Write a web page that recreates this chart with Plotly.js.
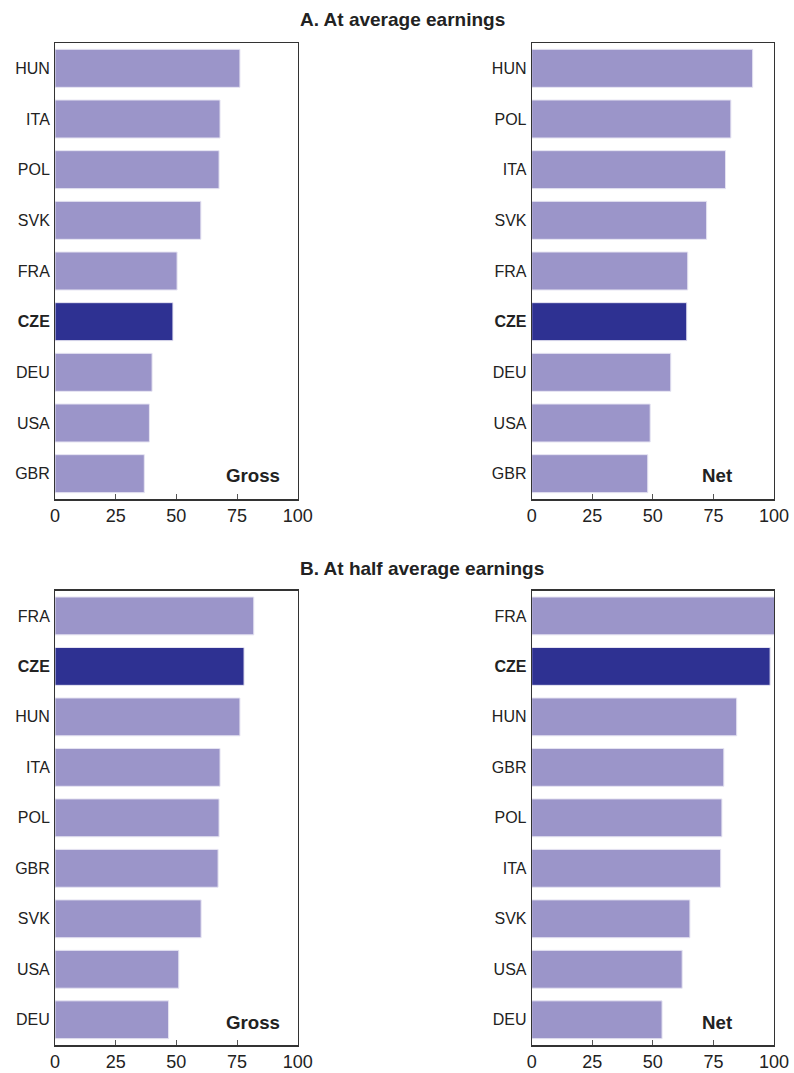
<!DOCTYPE html>
<html><head><meta charset="utf-8">
<script src="https://cdn.plot.ly/plotly-3.0.1.min.js"></script>
<style>html,body{margin:0;padding:0;background:#fff}#c{width:794px;height:1073px}</style>
</head><body><div id="c"></div>
<script>
// Panel A: at average earnings
const catsAGross = ["HUN","ITA","POL","SVK","FRA","CZE","DEU","USA","GBR"];
const valsAGross = [76.2, 68.0, 67.6, 60.1, 50.3, 48.6, 40.0, 38.9, 36.8];
const catsANet = ["HUN","POL","ITA","SVK","FRA","CZE","DEU","USA","GBR"];
const valsANet = [91.2, 82.2, 80.0, 72.2, 64.4, 64.0, 57.4, 48.9, 47.9];
// Panel B: at half average earnings
const catsBGross = ["FRA","CZE","HUN","ITA","POL","GBR","SVK","USA","DEU"];
const valsBGross = [81.9, 77.9, 76.2, 68.0, 67.6, 67.2, 60.2, 51.0, 46.8];
const catsBNet = ["FRA","CZE","HUN","GBR","POL","ITA","SVK","USA","DEU"];
const valsBNet = [101.0, 98.4, 84.6, 79.3, 78.5, 78.0, 65.3, 62.1, 53.8];
const xTicks = [0, 25, 50, 75, 100];
const highlight = "CZE";
const panelTitles = ["A. At average earnings", "B. At half average earnings"];
const panelLabels = ["Gross", "Net"];

const LIGHT = "#9b95c9", DARK = "#2e3192";
const FONT = "Liberation Sans, Arial, sans-serif";

function trace(cats, vals, xa, ya) {
  return {
    type: "bar", orientation: "h", x: vals, y: cats, xaxis: xa, yaxis: ya,
    width: 0.75,
    marker: {color: cats.map(c => c === highlight ? DARK : LIGHT), line: {color: "#e6e4f2", width: 1}},
    hoverinfo: "x+y", showlegend: false
  };
}
const data = [
  trace(catsAGross, valsAGross, "x", "y"),
  trace(catsANet, valsANet, "x2", "y2"),
  trace(catsBGross, valsBGross, "x3", "y3"),
  trace(catsBNet, valsBNet, "x4", "y4")
];

const H = 1073, W = 794;
const xL = [55/W, 297.7/W], xR = [531.7/W, 774/W];
const yA = [1-499/H, 1-43/H], yB = [1-1045/H, 1-590.7/H];

function xaxis(dom, anchor) {
  return {domain: dom, anchor: anchor, range: [0, 100], tickvals: xTicks, ticks: "inside", ticklen: 5,
    tickcolor: "#555", tickwidth: 1, showline: true, linecolor: "#333", linewidth: 1.5, mirror: true,
    showgrid: false, zeroline: false, fixedrange: true,
    tickfont: {family: FONT, size: 18, color: "#222"}};
}
function yaxis(dom, anchor, cats) {
  return {domain: dom, anchor: anchor, type: "category", categoryorder: "array", categoryarray: cats.slice(),
    autorange: "reversed", tickvals: cats, ticktext: cats.map(c => c === highlight ? "<b>" + c + "</b>" : c),
    ticks: "", showline: true, linecolor: "#333", linewidth: 1, mirror: true, showgrid: false, zeroline: false,
    ticklabelstandoff: 1, fixedrange: true,
    tickfont: {family: FONT, size: 16, color: "#222"}};
}

function title(t, yPx) {
  return {text: "<b>" + t + "</b>", xref: "paper", yref: "paper", x: 298/W, y: 1-yPx/H, showarrow: false,
    xanchor: "left", yanchor: "middle", font: {family: FONT, size: 19, color: "#222"}};
}
function label(t, xPx, yPx) {
  return {text: "<b>" + t + "</b>", xref: "paper", yref: "paper", x: xPx/W, y: 1-yPx/H, showarrow: false,
    xanchor: "center", yanchor: "middle", font: {family: FONT, size: 18.7, color: "#222"}};
}

const layout = {
  width: W, height: H, margin: {l: 0, r: 0, t: 0, b: 0}, paper_bgcolor: "#fff", plot_bgcolor: "#fff",
  bargap: 0.25,
  xaxis: xaxis(xL, "y"), yaxis: yaxis(yA, "x", catsAGross),
  xaxis2: xaxis(xR, "y2"), yaxis2: yaxis(yA, "x2", catsANet),
  xaxis3: xaxis(xL, "y3"), yaxis3: yaxis(yB, "x3", catsBGross),
  xaxis4: xaxis(xR, "y4"), yaxis4: yaxis(yB, "x4", catsBNet),
  annotations: [
    title(panelTitles[0], 20), title(panelTitles[1], 568),
    label(panelLabels[0], 253, 475), label(panelLabels[1], 717, 475),
    label(panelLabels[0], 253, 1022), label(panelLabels[1], 717, 1022)
  ]
};
Plotly.newPlot("c", data, layout, {displayModeBar: false, staticPlot: true});
</script></body></html>
